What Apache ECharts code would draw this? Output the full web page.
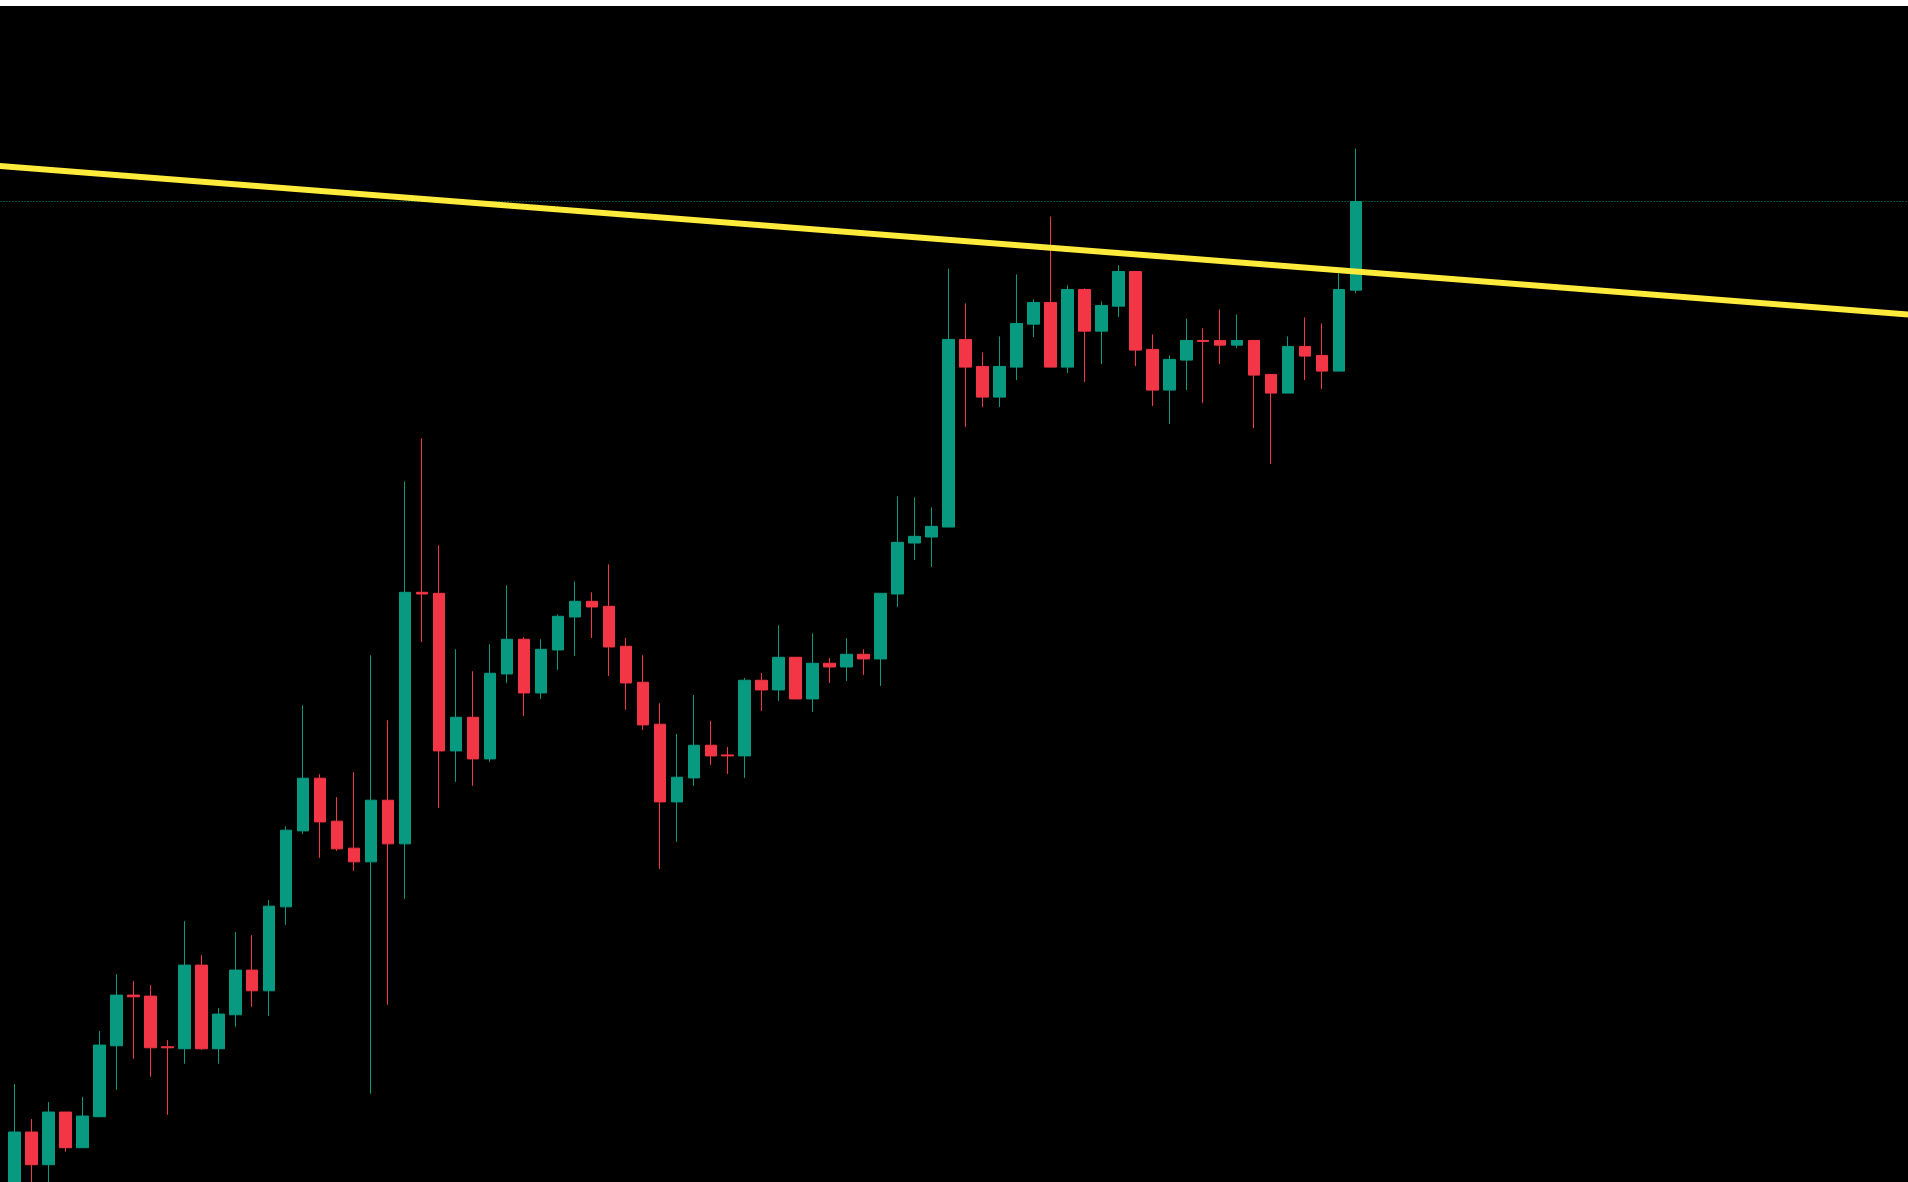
<!DOCTYPE html>
<html><head><meta charset="utf-8">
<script src="https://cdn.jsdelivr.net/npm/echarts@6/dist/echarts.min.js"></script>
<style>
html,body{margin:0;padding:0;background:#fff;overflow:hidden;width:1908px;height:1182px}
#chart{position:absolute;left:0;top:6px;width:1908px;height:1176px;background:#000}
</style>
</head><body><div id="chart"></div>
<script>
// 80 traded bars + empty future slots on the right
const barCount = 112;
const categories = Array.from({length: barCount}, (_, i) => String(i + 1));

const open = [98.7,105.0,101.73,107.0,103.43,106.53,113.63,118.7,118.6,113.53,
  113.33,121.7,113.33,116.73,121.2,119.13,127.53,135.13,140.4,136.1,
  133.4,132.03,138.2,133.83,159.0,158.9,143.13,146.5,142.33,150.83,
  154.3,148.93,153.23,156.53,158.1,157.6,153.6,150.0,145.8,138.03,
  140.43,143.7,142.73,142.63,150.2,149.23,152.5,148.33,151.9,151.53,
  152.8,152.33,158.83,163.93,164.53,165.53,184.3,181.6,178.53,181.53,
  185.83,188.0,181.53,189.3,185.13,187.63,191.1,183.3,179.23,182.23,
  184.2,184.2,183.73,184.2,180.8,178.93,183.6,182.7,181.13,189.23];
const close = [105.0,101.73,107.0,103.43,106.6,113.7,118.7,118.53,113.43,113.43,
  121.7,113.33,116.8,121.2,119.13,127.6,135.2,140.4,136.03,133.33,
  132.03,138.2,133.83,159.0,158.83,143.13,146.5,142.33,150.9,154.3,
  148.93,153.3,156.6,158.1,157.53,153.53,149.93,145.73,138.03,140.5,
  143.7,142.63,142.63,150.2,149.23,152.5,148.33,151.9,151.53,152.8,
  152.33,158.9,164.0,164.6,165.6,184.3,181.53,178.53,181.6,185.9,
  188.0,181.53,189.3,185.13,187.7,191.1,183.23,179.23,182.3,184.2,
  184.1,183.73,184.2,180.73,178.93,183.6,182.63,181.13,189.3,198.1];
const low = [97.7,99.2,99.2,103.03,103.43,106.53,109.23,112.33,110.53,106.73,
  111.83,113.23,111.83,115.53,117.53,116.63,125.73,134.83,132.43,133.13,
  131.13,108.83,117.73,128.33,154.03,137.43,140.03,139.63,142.03,149.93,
  146.63,148.33,151.23,152.63,154.43,150.63,147.23,145.23,131.32,134.03,
  139.63,141.73,140.83,140.43,147.13,148.13,148.33,147.03,149.93,150.13,
  150.73,149.63,157.53,162.23,161.53,165.53,175.53,177.53,177.53,180.23,
  184.53,181.53,180.93,180.03,181.83,186.53,181.63,177.63,175.83,179.23,
  177.93,181.83,183.43,175.43,171.83,178.93,180.23,179.33,181.13,188.93];
const high = [109.8,106.3,108.0,107.0,108.5,115.1,120.8,120.1,119.7,114.2,
  126.1,122.7,117.4,125.0,124.7,128.2,135.6,147.7,140.8,138.5,
  141.0,152.7,146.2,170.1,174.4,163.7,153.3,151.1,153.8,159.7,
  154.5,154.3,156.8,160.1,159.0,161.8,154.43,152.7,147.9,144.83,
  148.73,146.13,143.53,150.43,150.93,155.7,152.5,154.9,152.43,154.4,
  153.3,158.9,168.6,168.5,167.5,191.4,187.9,183.0,184.6,190.8,
  188.3,196.6,189.7,189.4,188.1,191.7,191.1,184.8,182.7,186.4,
  185.4,187.3,186.8,184.2,180.8,184.6,186.5,185.9,190.9,203.4];

// yellow trend line: two anchor points [bar index, price]
const trendLine = [[-1, 201.67], [112, 186.71]];
// last price line
const lastPrice = close[close.length - 1];

const UP = '#089981', DOWN = '#F23645';
const Y_MIN = 100, Y_MAX = 217.66;

const candleData = open.map((o, i) => [o, close[i], low[i], high[i]]);

const chart = echarts.init(document.getElementById('chart'), null, {renderer: 'canvas'});
// overlay grid spans the whole canvas; its x-axis is in bar-index units aligned to the candle grid
const GRID_LEFT = 6, BAND = 17;
const ovMin = -0.5 - GRID_LEFT / BAND;
const ovMax = ovMin + 1908 / BAND;
chart.setOption({
  animation: false,
  backgroundColor: '#000000',
  grid: [
    {left: GRID_LEFT, top: 0, width: BAND * barCount, height: 1176, containLabel: false},
    {left: 0, top: 0, width: 1908, height: 1176, containLabel: false}
  ],
  xAxis: [
    {type: 'category', gridIndex: 0, data: categories, boundaryGap: true, show: false},
    {type: 'value', gridIndex: 1, min: ovMin, max: ovMax, show: false}
  ],
  yAxis: [
    {type: 'value', gridIndex: 0, min: Y_MIN, max: Y_MAX, show: false, splitLine: {show: false}},
    {type: 'value', gridIndex: 1, min: Y_MIN, max: Y_MAX, show: false, splitLine: {show: false}}
  ],
  series: [
    {
      type: 'line',
      xAxisIndex: 1, yAxisIndex: 1,
      data: [[-1, lastPrice], [112, lastPrice]],
      symbol: 'none',
      silent: true,
      lineStyle: {color: UP, width: 1, type: [1, 2]},
      z: 1
    },
    {
      type: 'candlestick',
      xAxisIndex: 0, yAxisIndex: 0,
      data: candleData,
      barWidth: 12,
      itemStyle: {
        color: UP, color0: DOWN,
        borderColor: UP, borderColor0: DOWN,
        borderWidth: 1
      },
      z: 2
    },
    {
      type: 'line',
      xAxisIndex: 1, yAxisIndex: 1,
      data: trendLine,
      symbol: 'none',
      silent: true,
      lineStyle: {color: '#FFEB3B', width: 6},
      z: 3
    }
  ]
});
</script>
</body></html>
